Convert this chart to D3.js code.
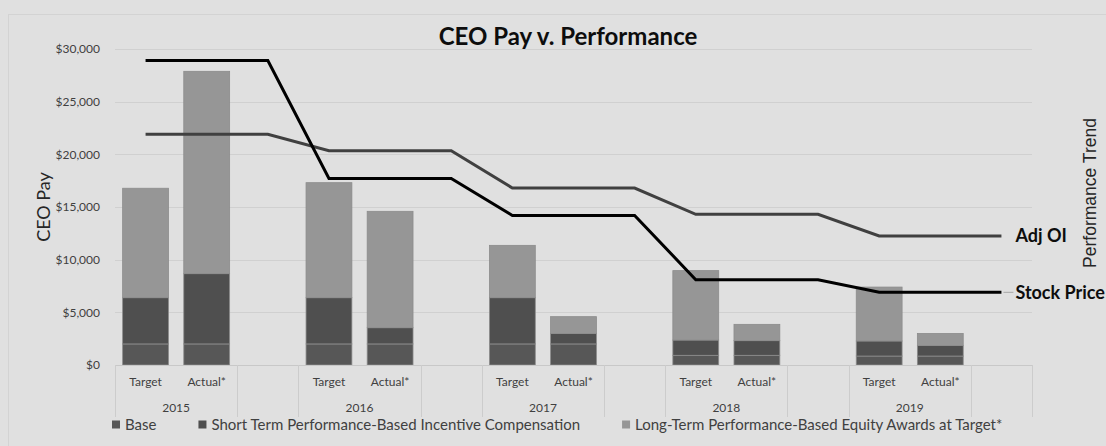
<!DOCTYPE html>
<html>
<head>
<meta charset="utf-8">
<script src="https://cdn.jsdelivr.net/npm/d3@7"></script>
<style>
  html, body { margin: 0; padding: 0; background: #e0e0e0; }
  svg { display: block; }
</style>
</head>
<body>
<svg id="chart"></svg>
<script>
// data (CEO pay in $000s)
const years = ['2015', '2016', '2017', '2018', '2019'];
const scenarios = ['Target', 'Actual*'];
const basePay = [2000, 2000, 2000, 2000, 2000, 2000, 920, 920, 850, 850];
const shortTerm = [4390, 6670, 4390, 1540, 4390, 1000, 1450, 1390, 1430, 990];
const longTerm = [10390, 19210, 10920, 11050, 4970, 1590, 6590, 1550, 5120, 1160];
const seriesNames = ['Base', 'Short Term Performance-Based Incentive Compensation', 'Long-Term Performance-Based Equity Awards at Target*'];
const seriesColors = ['#575757', '#4f4f4f', '#969696'];
// performance trend (secondary axis, index units, one value per year)
const stockPrice = [28.9, 17.7, 14.2, 8.1, 6.9];
const adjOI = [21.9, 20.35, 16.8, 14.3, 12.25];
const yTicks = [0, 5000, 10000, 15000, 20000, 25000, 30000];

const width = 1106, height = 446;
const margin = { top: 49, right: 74, bottom: 81, left: 115 };
const font = 'Lato, "Open Sans", sans-serif';

const svg = d3.select('#chart')
  .attr('width', width)
  .attr('height', height)
  .attr('font-family', font);

// chart area border
svg.append('rect')
  .attr('x', 8.5).attr('y', 14.5)
  .attr('width', width + 10).attr('height', height + 10)
  .attr('fill', '#e0e0e0')
  .attr('stroke', '#d3d3d3');

// each year gets Target, Actual* and an empty spacer slot
const slots = [];
years.forEach((yr, yi) => {
  scenarios.forEach((sc, si) => slots.push({ year: yr, yi, label: sc, idx: yi * 2 + si }));
  slots.push({ year: yr, yi, label: '', idx: null });
});
slots.forEach((s, i) => { s.slot = i; });

const x = d3.scaleBand()
  .domain(d3.range(slots.length))
  .range([margin.left, width - margin.right])
  .paddingInner(0.25)
  .paddingOuter(0.125);
const step = x.step();
const cx = i => x(i) + x.bandwidth() / 2;

const y = d3.scaleLinear().domain([0, 30000]).range([height - margin.bottom, margin.top]);
const y2 = d3.scaleLinear().domain([0, 30]).range(y.range());

// gridlines + left axis
svg.append('g')
  .selectAll('line')
  .data(yTicks.slice(1))
  .join('line')
  .attr('x1', margin.left).attr('x2', width - margin.right)
  .attr('y1', d => Math.round(y(d)) + 0.5).attr('y2', d => Math.round(y(d)) + 0.5)
  .attr('stroke', '#d0d0d0');

svg.append('g')
  .attr('transform', `translate(${margin.left},0)`)
  .call(d3.axisLeft(y).tickValues(yTicks).tickFormat(d3.format('$,')).tickSize(0).tickPadding(15))
  .call(g => g.select('.domain').remove())
  .call(g => g.selectAll('text').attr('font-size', 12).attr('fill', '#404040').attr('font-family', font));

// stacked bars
const rows = slots.filter(s => s.idx !== null).map(s => ({
  slot: s.slot, base: basePay[s.idx], short: shortTerm[s.idx], long: longTerm[s.idx]
}));
const stack = d3.stack().keys(['base', 'short', 'long'])(rows);

svg.append('g')
  .selectAll('g')
  .data(stack)
  .join('g')
  .attr('fill', (d, i) => seriesColors[i])
  .selectAll('rect')
  .data(d => d)
  .join('rect')
  .attr('x', d => x(d.data.slot))
  .attr('y', d => y(d[1]))
  .attr('width', x.bandwidth())
  .attr('height', d => y(d[0]) - y(d[1]))
  .attr('stroke', '#8c8c8c')
  .attr('stroke-width', 0.8);

// category axis: baseline, group separators, labels
const y0 = y(0);
svg.append('line')
  .attr('x1', margin.left).attr('x2', width - margin.right)
  .attr('y1', Math.round(y0) + 0.5).attr('y2', Math.round(y0) + 0.5)
  .attr('stroke', '#c8c8c8');

// separators at group boundaries (year pair, then spacer)
const bounds = [0];
years.forEach((yr, yi) => { bounds.push(yi * 3 + 2, yi * 3 + 3); });
svg.append('g')
  .selectAll('line')
  .data(bounds)
  .join('line')
  .attr('x1', d => Math.round(margin.left + d * step) + 0.5)
  .attr('x2', d => Math.round(margin.left + d * step) + 0.5)
  .attr('y1', y0).attr('y2', y0 + 52)
  .attr('stroke', '#cccccc');

svg.append('g')
  .selectAll('text')
  .data(slots.filter(s => s.label))
  .join('text')
  .attr('x', d => cx(d.slot))
  .attr('y', y0 + 21)
  .attr('text-anchor', 'middle')
  .attr('font-size', 12)
  .attr('fill', '#404040')
  .text(d => d.label);

svg.append('g')
  .selectAll('text')
  .data(years)
  .join('text')
  .attr('x', (d, i) => margin.left + (i * 3 + 1) * step)
  .attr('y', y0 + 47)
  .attr('text-anchor', 'middle')
  .attr('font-size', 12)
  .attr('fill', '#404040')
  .text(d => d);

// performance trend lines, one value per slot
const trend = [
  { name: 'Adj OI', values: adjOI, color: '#404040' },
  { name: 'Stock Price', values: stockPrice, color: '#000000', leader: true }
];
const line = d3.line().x(d => cx(d.slot)).y(d => y2(d.v));
const lastX = cx(slots.length - 1);

trend.forEach(t => {
  const pts = slots.map(s => ({ slot: s.slot, v: t.values[s.yi] }));
  svg.append('path')
    .datum(pts)
    .attr('fill', 'none')
    .attr('stroke', t.color)
    .attr('stroke-width', 3)
    .attr('d', line);
  const ly = y2(t.values[t.values.length - 1]);
  if (t.leader) {
    svg.append('line')
      .attr('x1', lastX + 2).attr('x2', lastX + 12)
      .attr('y1', ly).attr('y2', ly)
      .attr('stroke', '#a6a6a6');
  }
  svg.append('text')
    .attr('x', lastX + 14)
    .attr('y', ly)
    .attr('dy', '0.35em')
    .attr('font-size', 18)
    .attr('font-weight', 'bold')
    .attr('fill', '#0d0d0d')
    .text(t.name);
});

// titles
svg.append('text')
  .attr('x', 568).attr('y', 45)
  .attr('text-anchor', 'middle')
  .attr('font-size', 24)
  .attr('font-weight', 'bold')
  .attr('fill', '#0d0d0d')
  .text('CEO Pay v. Performance');

svg.append('text')
  .attr('transform', `translate(50,${(margin.top + y0) / 2}) rotate(-90)`)
  .attr('text-anchor', 'middle')
  .attr('font-size', 18)
  .attr('fill', '#262626')
  .text('CEO Pay');

svg.append('text')
  .attr('transform', `translate(1096,193) rotate(-90)`)
  .attr('text-anchor', 'middle')
  .attr('font-family', '"Liberation Sans", Arial, sans-serif')
  .attr('font-size', 17.5)
  .attr('fill', '#262626')
  .text('Performance Trend');

// legend
const legend = svg.append('g').attr('transform', `translate(112,${y0 + 64.5})`);
let lx = 0;
seriesNames.forEach((name, i) => {
  const g = legend.append('g').attr('transform', `translate(${lx},0)`);
  g.append('rect')
    .attr('x', 0).attr('y', -9)
    .attr('width', 8).attr('height', 8)
    .attr('fill', seriesColors[i]);
  const t = g.append('text')
    .attr('x', 13).attr('y', 0)
    .attr('font-size', 15)
    .attr('fill', '#404040')
    .text(name);
  lx += 13 + t.node().getComputedTextLength() + 42;
});
</script>
</body>
</html>
